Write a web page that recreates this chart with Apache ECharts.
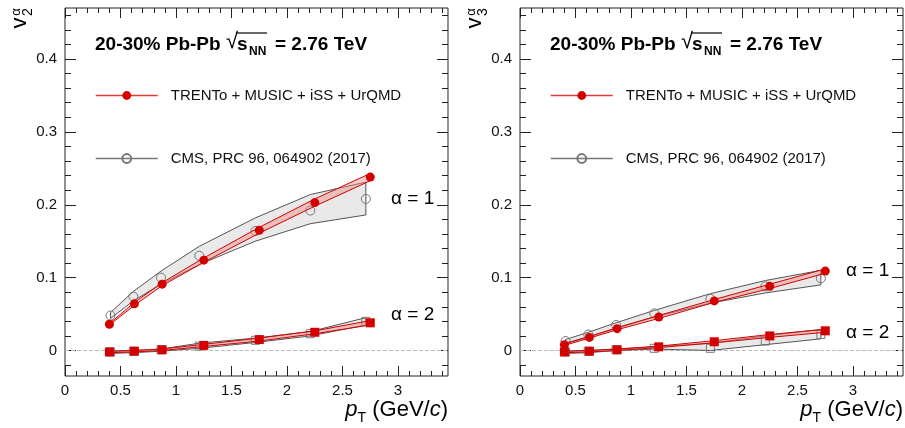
<!DOCTYPE html>
<html>
<head>
<meta charset="utf-8">
<title>v2 v3 alpha</title>
<script src="https://cdn.jsdelivr.net/npm/echarts@6/dist/echarts.min.js"></script>
<style>
    html, body { margin: 0; padding: 0; background: #fff; }
    #chart { width: 905px; height: 428px; }
</style>
</head>
<body>
<div id="chart"></div>
<script>
// pT bin centres (model slightly right of CMS, as in the figure)
var ptModel = [0.4, 0.625, 0.875, 1.25, 1.75, 2.25, 2.75];
var ptCms = [0.41, 0.615, 0.865, 1.21, 1.715, 2.21, 2.71];

// v2, alpha = 1
var v2a1Model = [0.036, 0.064, 0.091, 0.124, 0.165, 0.203, 0.238];
var v2a1ModelErr = [0.001, 0.002, 0.002, 0.003, 0.004, 0.005, 0.005];
var v2a1Cms = [0.048, 0.074, 0.100, 0.130, 0.164, 0.192, 0.208];
var v2a1CmsLo = [0.044, 0.068, 0.091, 0.118, 0.150, 0.174, 0.186];
var v2a1CmsHi = [0.052, 0.081, 0.109, 0.143, 0.182, 0.214, 0.231];

// v2, alpha = 2
var v2a2Model = [-0.002, -0.001, 0.001, 0.007, 0.015, 0.025, 0.038];
var v2a2ModelErr = [0.001, 0.001, 0.001, 0.0015, 0.002, 0.002, 0.003];
var v2a2Cms = [-0.002, -0.001, 0.001, 0.006, 0.014, 0.023, 0.040];
var v2a2CmsLo = [-0.004, -0.003, -0.001, 0.003, 0.011, 0.020, 0.035];
var v2a2CmsHi = [-0.001, 0.000, 0.002, 0.010, 0.017, 0.026, 0.045];

// v3, alpha = 1
var v3a1Model = [0.008, 0.018, 0.030, 0.046, 0.068, 0.088, 0.109];
var v3a1ModelErr = [0.001, 0.001, 0.0015, 0.002, 0.002, 0.003, 0.003];
var v3a1Cms = [0.013, 0.022, 0.035, 0.051, 0.071, 0.088, 0.099];
var v3a1CmsLo = [0.010, 0.019, 0.030, 0.046, 0.065, 0.079, 0.090];
var v3a1CmsHi = [0.015, 0.025, 0.038, 0.055, 0.078, 0.096, 0.110];

// v3, alpha = 2
var v3a2Model = [-0.002, -0.001, 0.001, 0.005, 0.012, 0.020, 0.027];
var v3a2ModelErr = [0.001, 0.001, 0.001, 0.001, 0.0015, 0.002, 0.002];
var v3a2Cms = [-0.002, -0.001, 0.001, 0.003, 0.003, 0.013, 0.022];
var v3a2CmsLo = [-0.004, -0.003, 0.000, 0.002, 0.000, 0.008, 0.016];
var v3a2CmsHi = [-0.001, 0.000, 0.002, 0.005, 0.010, 0.020, 0.029];

// axis ticks
var xMajorTicks = [0, 0.5, 1, 1.5, 2, 2.5, 3];
var xMinorTicks = [0.1, 0.2, 0.3, 0.4, 0.6, 0.7, 0.8, 0.9, 1.1, 1.2, 1.3, 1.4,
    1.6, 1.7, 1.8, 1.9, 2.1, 2.2, 2.3, 2.4, 2.6, 2.7, 2.8, 2.9, 3.1, 3.2, 3.3, 3.4];
var yMajorTicks = [0, 0.1, 0.2, 0.3, 0.4];
var yMinorTicks = [-0.02, 0.02, 0.04, 0.06, 0.08, 0.12, 0.14, 0.16, 0.18, 0.22, 0.24,
    0.26, 0.28, 0.32, 0.34, 0.36, 0.38, 0.42, 0.44, 0.46];

var MODEL_NAME = 'TRENTo + MUSIC + iSS + UrQMD';
var CMS_NAME = 'CMS, PRC 96, 064902 (2017)';
var RED = '#d40000';
var GREY = '#666666';
var FONT = '"Liberation Sans", Arial, sans-serif';

var panels = [
    { dx: 0, harm: '2',
      a1: [v2a1Model, v2a1ModelErr, v2a1Cms, v2a1CmsLo, v2a1CmsHi],
      a2: [v2a2Model, v2a2ModelErr, v2a2Cms, v2a2CmsLo, v2a2CmsHi],
      a1y: 200, a2y: 316 },
    { dx: 455, harm: '3',
      a1: [v3a1Model, v3a1ModelErr, v3a1Cms, v3a1CmsLo, v3a1CmsHi],
      a2: [v3a2Model, v3a2ModelErr, v3a2Cms, v3a2CmsLo, v3a2CmsHi],
      a1y: 272, a2y: 334 }
];

function bandRender(fill, stroke) {
    return function (params, api) {
        if (params.dataIndexInside !== 0) return;
        var upper = [], lower = [];
        for (var i = 0; i < params.dataInsideLength; i++) {
            upper.push(api.coord([api.value(0, i), api.value(2, i)]));
            lower.unshift(api.coord([api.value(0, i), api.value(1, i)]));
        }
        return {
            type: 'polygon',
            shape: { points: upper.concat(lower) },
            style: { fill: fill, stroke: stroke, lineWidth: 1 }
        };
    };
}

function zip(x, lo, hi) {
    var out = [];
    for (var i = 0; i < x.length; i++) out.push([x[i], lo[i], hi[i]]);
    return out;
}

function pairs(x, y) {
    var out = [];
    for (var i = 0; i < x.length; i++) out.push([x[i], y[i]]);
    return out;
}

function shift(v, e, sign) {
    var out = [];
    for (var i = 0; i < v.length; i++) out.push(v[i] + sign * e[i]);
    return out;
}

var grids = [], xAxes = [], yAxes = [], series = [], legends = [], graphics = [];

function tickAxis(kind, g, pos, values, len, withLabel) {
    return {
        type: 'value', gridIndex: g, position: pos,
        min: kind === 'x' ? 0 : -0.035,
        max: kind === 'x' ? 3.45 : 0.47,
        axisLine: { show: false, onZero: false },
        splitLine: { show: false },
        axisTick: { show: true, inside: true, length: len, customValues: values,
                    lineStyle: { color: '#222', width: 1 } },
        axisLabel: { show: withLabel, customValues: values, fontSize: 15, color: '#111',
                     fontFamily: FONT, margin: kind === 'x' ? 7 : 8 }
    };
}

panels.forEach(function (p, g) {
    grids.push({ left: 65 + p.dx, top: 8, width: 383, height: 368, show: true,
                 borderColor: '#222', borderWidth: 1, backgroundColor: 'transparent' });

    var xi = xAxes.length, yi = yAxes.length;
    xAxes.push(tickAxis('x', g, 'bottom', xMajorTicks, 10, true));
    xAxes.push(tickAxis('x', g, 'bottom', xMinorTicks, 5, false));
    xAxes.push(tickAxis('x', g, 'top', xMajorTicks, 10, false));
    xAxes.push(tickAxis('x', g, 'top', xMinorTicks, 5, false));
    yAxes.push(tickAxis('y', g, 'left', yMajorTicks, 11, true));
    yAxes.push(tickAxis('y', g, 'left', yMinorTicks, 6, false));
    yAxes.push(tickAxis('y', g, 'right', yMajorTicks, 11, false));
    yAxes.push(tickAxis('y', g, 'right', yMinorTicks, 6, false));

    [p.a1, p.a2].forEach(function (d, k) {
        var model = d[0], err = d[1], cms = d[2], lo = d[3], hi = d[4];
        var sym = k === 0 ? 'circle' : 'rect';
        series.push({
            type: 'custom', xAxisIndex: xi, yAxisIndex: yi, z: 2, silent: true,
            encode: { x: 0, y: [1, 2] },
            data: zip(ptCms, lo, hi),
            renderItem: bandRender('#e9e9e9', '#555555')
        });
        series.push({
            type: 'line', name: k === 0 ? CMS_NAME : 'CMS alpha2', xAxisIndex: xi, yAxisIndex: yi, z: 3,
            data: pairs(ptCms, cms),
            symbol: sym, symbolSize: k === 0 ? 9 : 8,
            lineStyle: { width: 0, color: GREY },
            itemStyle: { color: 'rgba(255,255,255,0)', borderColor: '#777', borderWidth: 1 }
        });
        series.push({
            type: 'custom', xAxisIndex: xi, yAxisIndex: yi, z: 4, silent: true,
            encode: { x: 0, y: [1, 2] },
            data: zip(ptModel, shift(model, err, -1), shift(model, err, 1)),
            renderItem: bandRender('rgba(236,140,130,0.45)', RED)
        });
        var s = {
            type: 'line', name: k === 0 ? MODEL_NAME : 'model alpha2', xAxisIndex: xi, yAxisIndex: yi, z: 5,
            data: pairs(ptModel, model),
            symbol: sym, symbolSize: 9,
            lineStyle: { width: 0, color: RED },
            itemStyle: { color: RED }
        };
        if (k === 0) {
            s.markLine = {
                silent: true, symbol: 'none', z: 1,
                label: { show: false },
                lineStyle: { color: '#bbbbbb', type: 'dashed', width: 1 },
                data: [{ yAxis: 0 }]
            };
        }
        series.push(s);
    });

    legends.push({
        left: 95 + p.dx, top: 88, orient: 'vertical', padding: 0,
        itemWidth: 62, itemHeight: 11, itemGap: 48,
        selectedMode: false,
        textStyle: { fontSize: 15, color: '#111', fontFamily: FONT, padding: [0, 0, 0, 8] },
        data: [
            { name: MODEL_NAME, lineStyle: { width: 1.5, color: '#e03a3a', opacity: 1 } },
            { name: CMS_NAME, lineStyle: { width: 1.5, color: '#777', opacity: 1 } }
        ]
    });

    var tx = p.dx;
    var bold = { fontSize: 19, fontWeight: 'bold', fill: '#000', fontFamily: FONT };
    graphics.push(
        { type: 'text', left: 95 + tx, top: 35, style: Object.assign({ text: '20-30% Pb-Pb' }, bold) },
        { type: 'text', left: 226 + tx, top: 31, style: { text: '\u221A', fontSize: 22, fill: '#000', fontFamily: FONT } },
        { type: 'text', left: 237 + tx, top: 35, style: Object.assign({ text: 's' }, bold) },
        { type: 'text', left: 249 + tx, top: 46, style: { text: 'NN', fontSize: 12, fontWeight: 'bold', fill: '#000', fontFamily: FONT } },
        { type: 'text', left: 275 + tx, top: 35, style: Object.assign({ text: '= 2.76 TeV' }, bold) },
        { type: 'line', shape: { x1: 236 + tx, y1: 33, x2: 267 + tx, y2: 33 }, style: { stroke: '#000', lineWidth: 1.2 } },
        { type: 'text', left: 391 + tx, top: p.a1y - 11, style: { text: '\u03B1 = 1', fontSize: 19, fill: '#000', fontFamily: FONT } },
        { type: 'text', left: 391 + tx, top: p.a2y - 11, style: { text: '\u03B1 = 2', fontSize: 19, fill: '#000', fontFamily: FONT } },
        { type: 'text', x: 20 + tx, y: 23, rotation: Math.PI / 2,
          style: { text: 'v', fontSize: 22, fill: '#000', fontFamily: FONT, align: 'center', verticalAlign: 'middle' } },
        { type: 'text', x: 16 + tx, y: 12, rotation: Math.PI / 2,
          style: { text: '\u03B1', fontSize: 13, fill: '#000', fontFamily: FONT, align: 'center', verticalAlign: 'middle' } },
        { type: 'text', x: 28 + tx, y: 12, rotation: Math.PI / 2,
          style: { text: p.harm, fontSize: 14, fill: '#000', fontFamily: FONT, align: 'center', verticalAlign: 'middle' } },
        { type: 'text', x: 448 + tx, y: 410,
          style: {
              text: '{i|p}{sub|T}{n| (GeV/}{i|c}{n|)}', align: 'right', verticalAlign: 'middle',
              rich: {
                  i: { fontSize: 22, fontStyle: 'italic', fill: '#000', fontFamily: FONT },
                  n: { fontSize: 22, fill: '#000', fontFamily: FONT },
                  sub: { fontSize: 14, fill: '#000', fontFamily: FONT, padding: [16, 0, 0, 0] }
              }
          } }
    );
});

var chart = echarts.init(document.getElementById('chart'));
chart.setOption({
    animation: false,
    backgroundColor: '#fff',
    grid: grids,
    xAxis: xAxes,
    yAxis: yAxes,
    legend: legends,
    series: series,
    graphic: graphics
});
</script>
</body>
</html>
